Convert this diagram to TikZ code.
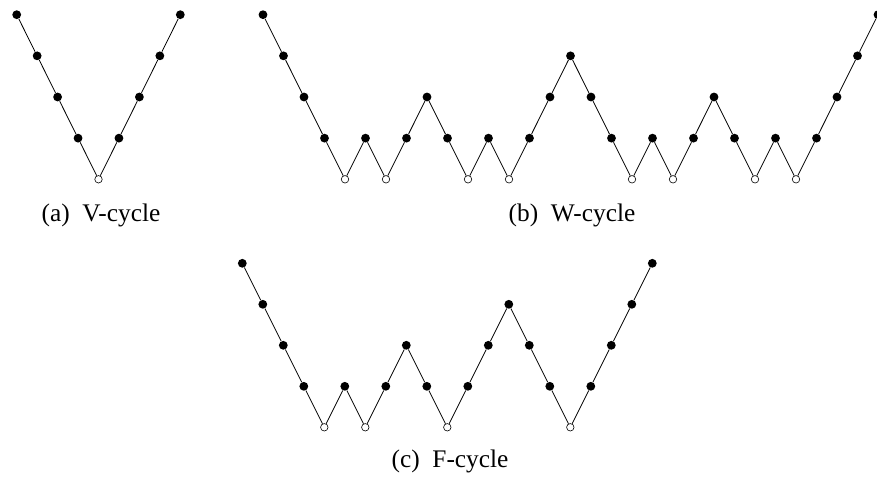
\documentclass[tikz,border=0pt]{standalone}
\usepackage{fontspec}
\setmainfont{Liberation Serif}
\usepackage{tikz}

\begin{document}
\begin{tikzpicture}[
    x=0.75pt, y=-0.75pt,
    dot/.style={circle, fill=black, inner sep=0pt, minimum size=6.6pt},
    coarse/.style={circle, draw=black, fill=white, line width=0.45pt,
                   inner sep=0pt, minimum size=5.6pt},
    leg/.style={line width=0.6pt},
    subcap/.style={anchor=base, font=\fontsize{19}{22}\selectfont}
]
    \useasboundingbox (0,0) rectangle (877,477);

    % V-cycle
    \foreach \l [count=\i from 0] in {0,1,2,3,4,3,2,1,0} {
        \ifnum\l=4
            \node[coarse] (v\i) at (16.7+20.45*\i, 14.7+41.15*\l) {};
        \else
            \node[dot] (v\i) at (16.7+20.45*\i, 14.7+41.15*\l) {};
        \fi
    }
    \foreach \i [remember=\i as \j (initially 0)] in {1,...,8}
        \draw[leg] (v\j) -- (v\i);
    \node[subcap] (capv) at (101,221.7) {(a)\enspace V-cycle};

    % W-cycle
    \foreach \l [count=\i from 0] in {0,1,2,3,4,3,4,3,2,3,4,3,4,3,2,1,
                                      2,3,4,3,4,3,2,3,4,3,4,3,2,1,0} {
        \ifnum\l=4
            \node[coarse] (w\i) at (263+20.5*\i, 14.7+41.15*\l) {};
        \else
            \node[dot] (w\i) at (263+20.5*\i, 14.7+41.15*\l) {};
        \fi
    }
    \foreach \i [remember=\i as \j (initially 0)] in {1,...,30}
        \draw[leg] (w\j) -- (w\i);
    \node[subcap] (capw) at (572,221.7) {(b)\enspace W-cycle};

    % F-cycle
    \foreach \l [count=\i from 0] in {0,1,2,3,4,3,4,3,2,3,4,3,2,1,
                                      2,3,4,3,2,1,0} {
        \ifnum\l=4
            \node[coarse] (f\i) at (242.3+20.5*\i, 263.3+41*\l) {};
        \else
            \node[dot] (f\i) at (242.3+20.5*\i, 263.3+41*\l) {};
        \fi
    }
    \foreach \i [remember=\i as \j (initially 0)] in {1,...,20}
        \draw[leg] (f\j) -- (f\i);
    \node[subcap] (capf) at (450,467.5) {(c)\enspace F-cycle};
\end{tikzpicture}
\end{document}
